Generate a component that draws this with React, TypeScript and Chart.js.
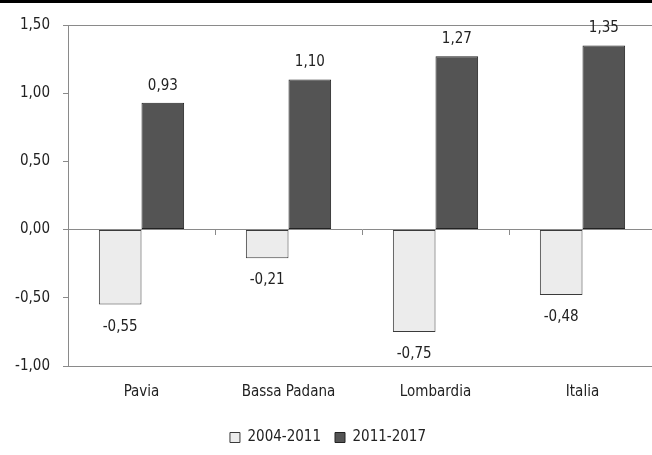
import React, { useEffect, useRef } from "react";
import { Chart, registerables } from "chart.js";

Chart.register(...registerables);

const categories = ["Pavia", "Bassa Padana", "Lombardia", "Italia"];
const series1Label = "2004-2011";
const series2Label = "2011-2017";
const series1 = [-0.55, -0.21, -0.75, -0.48];
const series2 = [0.93, 1.1, 1.27, 1.35];
const yMin = -1;
const yMax = 1.5;
const yStep = 0.5;

const FONT = "'DejaVu Sans Condensed', 'DejaVu Sans', sans-serif";
const fmt = (v: number) => v.toFixed(2).replace(".", ",");

const framePlugin = {
  id: "frame",
  beforeDatasetsDraw(chart: any) {
    const { ctx, chartArea } = chart;
    ctx.save();
    ctx.strokeStyle = "#8a8a8a";
    ctx.lineWidth = 1;
    ctx.strokeRect(
      Math.round(chartArea.left) + 0.5,
      Math.round(chartArea.top) + 0.5,
      chartArea.right - chartArea.left,
      chartArea.bottom - chartArea.top
    );
    ctx.restore();
  },
  afterDraw(chart: any) {
    const { ctx, width } = chart;
    ctx.save();
    ctx.fillStyle = "#000";
    ctx.fillRect(0, 0, width, 3);
    ctx.restore();
  },
};

const labelPlugin = {
  id: "valueLabels",
  afterDatasetsDraw(chart: any) {
    const { ctx } = chart;
    ctx.save();
    ctx.font = `15px ${FONT}`;
    ctx.fillStyle = "#222";
    ctx.textAlign = "center";
    ctx.textBaseline = "middle";
    chart.data.datasets.forEach((ds: any, di: number) => {
      const meta = chart.getDatasetMeta(di);
      meta.data.forEach((bar: any, i: number) => {
        const v = ds.data[i];
        const y = v >= 0 ? bar.y - 17 : bar.y + 22;
        ctx.fillText(fmt(v), bar.x, y);
      });
    });
    ctx.restore();
  },
};

export default function App() {
  const ref = useRef<HTMLCanvasElement>(null);
  useEffect(() => {
    if (!ref.current) return;
    const chart = new Chart(ref.current, {
      type: "bar",
      data: {
        labels: categories,
        datasets: [
          {
            label: series1Label,
            data: series1,
            backgroundColor: "#ececec",
            borderColor: "#3a3a3a",
            borderWidth: 1,
            borderSkipped: false,
          },
          {
            label: series2Label,
            data: series2,
            backgroundColor: "#545454",
            borderColor: "#222222",
            borderWidth: 1,
            borderSkipped: false,
          },
        ],
      },
      options: {
        responsive: false,
        animation: false,
        devicePixelRatio: 1,
        layout: { padding: { top: 25, right: 24, left: 0, bottom: 0 } },
        datasets: {
          bar: { categoryPercentage: 0.58, barPercentage: 1 },
        },
        plugins: {
          legend: {
            position: "bottom",
            labels: {
              font: { family: FONT, size: 15 },
              color: "#222",
              boxWidth: 10,
              boxHeight: 10,
              padding: 14,
            },
          },
          tooltip: { enabled: false },
        },
        scales: {
          x: {
            type: "category",
            grid: { display: false },
            border: { display: false },
            afterFit: (s: any) => {
              s.height = s.height + 6;
            },
            ticks: {
              font: { family: FONT, size: 15 },
              color: "#222",
              padding: 9,
            },
          },
          x2: {
            type: "category",
            labels: categories,
            position: { y: 0 },
            grid: {
              offset: true,
              drawOnChartArea: false,
              tickLength: 5,
              color: "#8a8a8a",
            },
            border: { display: true, color: "#8a8a8a" },
            ticks: { display: false },
          },
          y: {
            min: yMin,
            max: yMax,
            afterFit: (s: any) => {
              s.width = 68;
            },
            ticks: {
              stepSize: yStep,
              font: { family: FONT, size: 15 },
              color: "#222",
              padding: 13,
              callback: (v: any) => fmt(Number(v)),
            },
            grid: {
              drawOnChartArea: false,
              tickLength: 5,
              color: "#8a8a8a",
            },
            border: { display: true, color: "#8a8a8a" },
          },
        },
      } as any,
      plugins: [framePlugin, labelPlugin],
    });
    return () => chart.destroy();
  }, []);
  return (
    <div
      style={{
        position: "fixed",
        left: 0,
        top: 0,
        width: 652,
        height: 455,
        overflow: "hidden",
        background: "#fff",
      }}
    >
      <canvas ref={ref} width={680} height={455} />
    </div>
  );
}
